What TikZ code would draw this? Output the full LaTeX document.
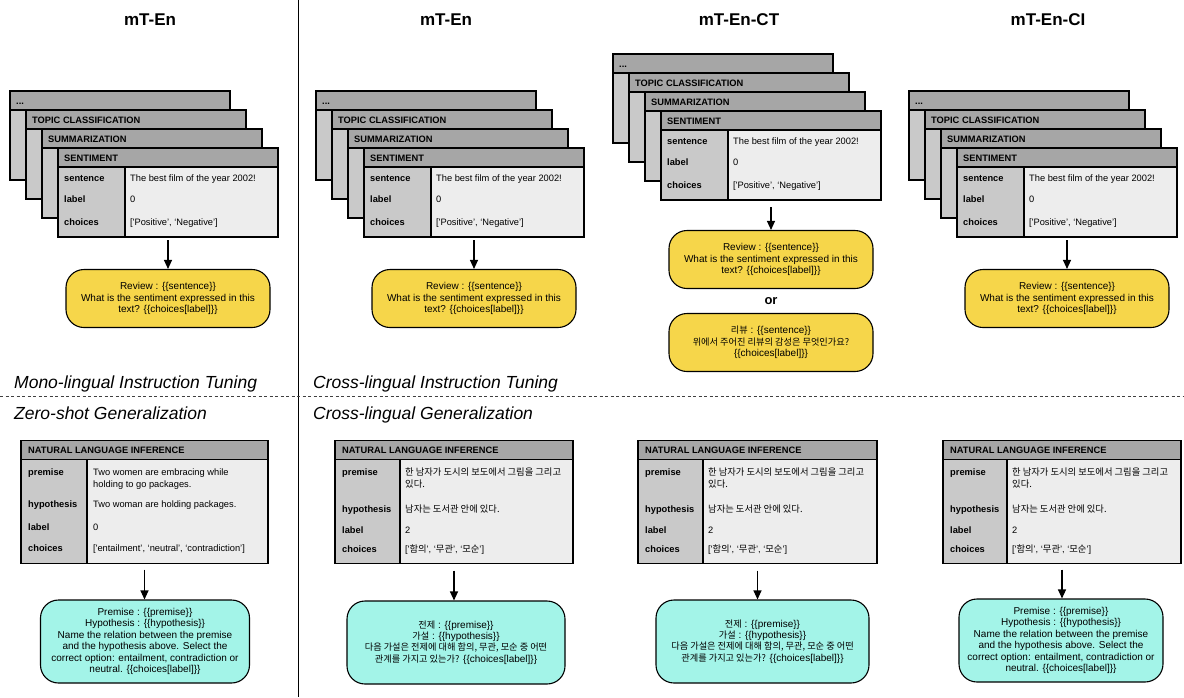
\documentclass[tikz,border=0pt]{standalone}
\usepackage{fontspec}
\setmainfont{Liberation Sans}
\newfontfamily\kr[Scale=0.92]{Noto Sans CJK KR}
\newfontfamily\krt[Scale=1.0]{Noto Sans CJK KR}
\usetikzlibrary{arrows.meta}

\newcommand\tabfont{\fontsize{9.3}{11}\selectfont}
\newcommand\tabfontb{\fontsize{9.3}{11}\selectfont\bfseries}
\newcommand\promptfont{\fontsize{10}{11.4}\selectfont}

\definecolor{hdrgray}{HTML}{A6A6A6}
\definecolor{keygray}{HTML}{C9C9C9}
\definecolor{valgray}{HTML}{EDEDED}
\definecolor{promptyellow}{HTML}{F6D64A}
\definecolor{promptcyan}{HTML}{A3F4E8}

\tikzset{
  cardline/.style={draw=black, line width=1.1pt, inner sep=0pt, outer sep=0pt},
  backcard/.style={cardline, fill=keygray, minimum width=220pt, minimum height=89pt, anchor=north west},
  frontcard/.style={cardline, fill=valgray, minimum width=220pt, minimum height=89pt, anchor=north west},
  keycol/.style={cardline, fill=keygray, minimum width=67pt, minimum height=70pt, anchor=north west},
  hdrbox/.style={cardline, fill=hdrgray, minimum width=220pt, minimum height=19pt, anchor=north west},
  hdrtext/.style={font=\tabfontb, inner sep=0pt, anchor=base west},
  keytext/.style={font=\tabfontb, inner sep=0pt, anchor=base west},
  valtext/.style={font=\tabfont, inner sep=0pt, anchor=base west},
  promptbox/.style={draw=black, line width=1.1pt, rounded corners=18pt, align=center, font=\promptfont, inner sep=0pt},
  yprompt/.style={promptbox, fill=promptyellow, minimum width=204pt, minimum height=58pt},
  cprompt/.style={promptbox, fill=promptcyan, minimum height=83pt},
  flowarrow/.style={line width=1.1pt, -{Triangle[length=9pt,width=8pt]}},
  coltitle/.style={font=\fontsize{17}{20}\selectfont\bfseries, inner sep=0pt},
  sectlabel/.style={font=\fontsize{17.5}{20}\selectfont\itshape, anchor=base west, inner sep=0pt},
}

% #1 name, #2 x of front card, #3 y of front card
\newcommand\taskstack[3]{%
  \foreach \k/\lab in {3/{...},2/{TOPIC CLASSIFICATION},1/{SUMMARIZATION}}{%
    \node[backcard] (#1-card\k) at ({#2-16*\k},{#3-19*\k}) {};
    \node[hdrbox] (#1-hdr\k) at ({#2-16*\k},{#3-19*\k}) {};
    \node[hdrtext] (#1-lab\k) at ({#2-16*\k+6},{#3-19*\k+13}) {\lab};
  }
  \node[frontcard] (#1-sent) at (#2,#3) {};
  \node[keycol] (#1-key) at (#2,{#3+19}) {};
  \node[hdrbox] (#1-hdr0) at (#2,#3) {};
  \node[hdrtext] (#1-lab0) at ({#2+6},{#3+13}) {SENTIMENT};
  \node[keytext] (#1-k1) at ({#2+6},{#3+33.4}) {sentence};
  \node[keytext] (#1-k2) at ({#2+6},{#3+54.4}) {label};
  \node[keytext] (#1-k3) at ({#2+6},{#3+77.4}) {choices};
  \node[valtext] (#1-v1) at ({#2+72},{#3+33.4}) {The best film of the year 2002!};
  \node[valtext] (#1-v2) at ({#2+72},{#3+54.4}) {0};
  \node[valtext] (#1-v3) at ({#2+72},{#3+77.4}) {[\textquotesingle Positive’, ‘Negative’]};
}

% #1 name, #2 x, #3 key width, #4 value width
\newcommand\nliframe[4]{%
  \node[cardline, fill=valgray, minimum width={#3pt+#4pt}, minimum height=123pt, anchor=north west] (#1) at (#2,440.5) {};
  \node[cardline, fill=keygray, minimum width=#3pt, minimum height=104pt, anchor=north west] (#1-key) at (#2,459.5) {};
  \node[cardline, fill=hdrgray, minimum width={#3pt+#4pt}, minimum height=19pt, anchor=north west] (#1-hdr) at (#2,440.5) {};
  \node[hdrtext] (#1-lab) at ({#2+7},453.5) {NATURAL LANGUAGE INFERENCE};
}

% #1 name, #2 key text x, #3 value text x, #4 premise l1, #5 premise l2, #6 hypothesis, #7 label, #8 choices, #9 korean shift (0/1)
\newcommand\nlirows[9]{%
  \node[keytext] (#1-k1) at (#2,475.4) {premise};
  \node[keytext] (#1-k2) at (#2,{507.4+5*#9}) {hypothesis};
  \node[keytext] (#1-k3) at (#2,{530.4+3*#9}) {label};
  \node[keytext] (#1-k4) at (#2,{551.4+#9}) {choices};
  \node[valtext] (#1-v1) at (#3,475.4) {#4};
  \node[valtext] (#1-v1b) at (#3,487.4) {#5};
  \node[valtext] (#1-v2) at (#3,{507.4+5*#9}) {#6};
  \node[valtext] (#1-v3) at (#3,{530.4+3*#9}) {#7};
  \node[valtext] (#1-v4) at (#3,{551.4+#9}) {#8};
}

\begin{document}
\begin{tikzpicture}[x=1pt,y=-1pt]
\useasboundingbox (0,0) rectangle (1184,697);

% separators
\coordinate (vtop) at (298,0);
\coordinate (vbot) at (298,697);
\coordinate (hl) at (0,396);
\coordinate (hr) at (1184,396);
\draw[line width=1pt] (vtop) -- (vbot);
\draw[line width=1pt, color=black!75, dash pattern=on 3pt off 2.5pt] (hl) -- (hr);

% column titles
\node[coltitle] (t1) at (150,20) {mT-En};
\node[coltitle] (t2) at (446,20) {mT-En};
\node[coltitle] (t3) at (739,20) {mT-En-CT};
\node[coltitle] (t4) at (1048,20) {mT-En-CI};

% section labels
\node[sectlabel] (s1) at (14,388) {Mono-lingual Instruction Tuning};
\node[sectlabel] (s2) at (313,388) {Cross-lingual Instruction Tuning};
\node[sectlabel] (s3) at (14,419) {Zero-shot Generalization};
\node[sectlabel] (s4) at (313,419) {Cross-lingual Generalization};

% task stacks
\taskstack{c1}{58}{148}
\taskstack{c2}{364}{148}
\taskstack{c3}{661}{111}
\taskstack{c4}{957}{148}

% yellow prompts
\node[yprompt] (p1) at (168,298.5) {Review : \{\{sentence\}\}\\What is the sentiment expressed in this\\text? \{\{choices[label]\}\}};
\node[yprompt] (p2) at (474,298.5) {Review : \{\{sentence\}\}\\What is the sentiment expressed in this\\text? \{\{choices[label]\}\}};
\node[yprompt] (p3a) at (771,259.5) {Review : \{\{sentence\}\}\\What is the sentiment expressed in this\\text? \{\{choices[label]\}\}};
\node[font=\fontsize{13}{15}\selectfont\bfseries, inner sep=0pt] (or) at (771,301) {or};
\node[yprompt] (p3b) at (771,342.5) {{\kr 리뷰} : \{\{sentence\}\}\\{\kr 위에서 주어진 리뷰의 감성은 무엇인가요?}\\\{\{choices[label]\}\}};
\node[yprompt] (p4) at (1067,298.5) {Review : \{\{sentence\}\}\\What is the sentiment expressed in this\\text? \{\{choices[label]\}\}};

\draw[flowarrow, shorten <=3pt] (c1-sent.south) -- (p1.north);
\draw[flowarrow, shorten <=3pt] (c2-sent.south) -- (p2.north);
\draw[flowarrow, shorten <=7pt] (c3-sent.south) -- (p3a.north);
\draw[flowarrow, shorten <=3pt] (c4-sent.south) -- (p4.north);

% NLI tables
\nliframe{n1}{21}{66}{181}
\nlirows{n1}{28}{93}{Two women are embracing while}{holding to go packages.}{Two woman are holding packages.}{0}{[\textquotesingle entailment’, ‘neutral’, ‘contradiction’]}{0}
\nliframe{n2}{335}{65}{173}
\nlirows{n2}{342}{405}{\krt 한 남자가 도시의 보도에서 그림을 그리고}{\krt 있다.}{\krt 남자는 도서관 안에 있다.}{2}{[\textquotesingle{\krt 함의}’, ‘{\krt 무관}’, ‘{\krt 모순}’]}{1}
\nliframe{n3}{638}{65}{174}
\nlirows{n3}{645}{708}{\krt 한 남자가 도시의 보도에서 그림을 그리고}{\krt 있다.}{\krt 남자는 도서관 안에 있다.}{2}{[\textquotesingle{\krt 함의}’, ‘{\krt 무관}’, ‘{\krt 모순}’]}{1}
\nliframe{n4}{943}{64}{174}
\nlirows{n4}{950}{1012}{\krt 한 남자가 도시의 보도에서 그림을 그리고}{\krt 있다.}{\krt 남자는 도서관 안에 있다.}{2}{[\textquotesingle{\krt 함의}’, ‘{\krt 무관}’, ‘{\krt 모순}’]}{1}

% cyan prompts
\node[cprompt, minimum width=209pt] (q1) at (145,641.5) {Premise : \{\{premise\}\}\\Hypothesis : \{\{hypothesis\}\}\\Name the relation between the premise\\and the hypothesis above. Select the\\correct option: entailment, contradiction or\\neutral. \{\{choices[label]\}\}};
\node[cprompt, minimum width=218pt] (q2) at (456,642.5) {{\kr 전제} : \{\{premise\}\}\\{\kr 가설} : \{\{hypothesis\}\}\\{\kr 다음 가설은 전제에 대해 함의, 무관, 모순 중 어떤}\\{\kr 관계를 가지고 있는가?} \{\{choices[label]\}\}};
\node[cprompt, minimum width=213pt] (q3) at (762.5,641.5) {{\kr 전제} : \{\{premise\}\}\\{\kr 가설} : \{\{hypothesis\}\}\\{\kr 다음 가설은 전제에 대해 함의, 무관, 모순 중 어떤}\\{\kr 관계를 가지고 있는가?} \{\{choices[label]\}\}};
\node[cprompt, minimum width=204pt] (q4) at (1061,640.5) {Premise : \{\{premise\}\}\\Hypothesis : \{\{hypothesis\}\}\\Name the relation between the premise\\and the hypothesis above. Select the\\correct option: entailment, contradiction or\\neutral. \{\{choices[label]\}\}};

\draw[flowarrow, shorten <=6pt] (n1.south) -- (n1.south |- q1.north);
\draw[flowarrow, shorten <=7pt] (n2.south) -- (n2.south |- q2.north);
\draw[flowarrow, shorten <=7pt] (n3.south) -- (n3.south |- q3.north);
\draw[flowarrow, shorten <=6pt] (n4.south) -- (n4.south |- q4.north);
\end{tikzpicture}
\end{document}
